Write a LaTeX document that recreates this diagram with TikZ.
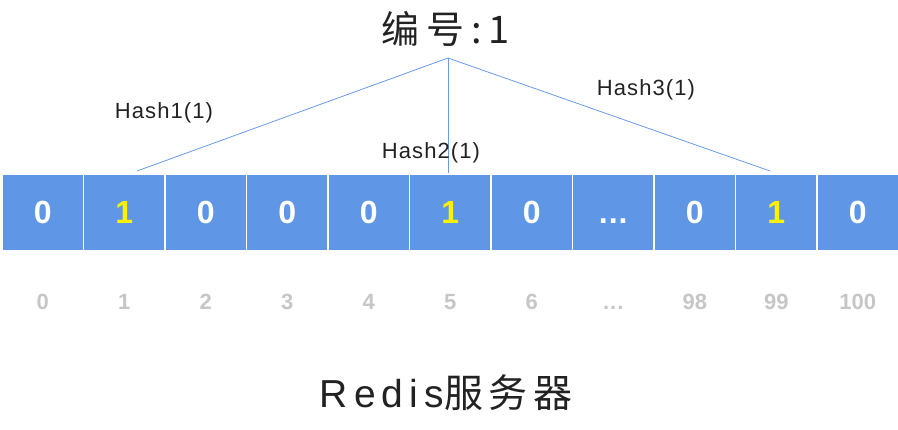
\documentclass[tikz,border=0pt]{standalone}
\usepackage{fontspec}
\setmainfont{Liberation Sans}
\newfontfamily\cjk{Noto Sans CJK SC}
\newcommand\mydots{\vphantom{0}.\kern1pt.\kern1pt.}
\definecolor{cellblue}{HTML}{5F96E6}
\definecolor{lineblue}{HTML}{6A9BE8}
\definecolor{idxgray}{HTML}{C6C6C6}
\definecolor{txt}{HTML}{222222}
\begin{document}
\begin{tikzpicture}[x=1pt,y=-1pt,
  cellbox/.style={fill=cellblue,draw=white,line width=1.4pt,minimum width=81.5pt,minimum height=77pt,inner sep=0pt,
    font=\fontsize{32}{32}\selectfont\bfseries,text=white},
  onebit/.style={text=yellow},
  idx/.style={font=\fontsize{22}{22}\selectfont\bfseries,text=idxgray},
  hashlbl/.style={font=\fontsize{22}{22}\selectfont\addfontfeatures{LetterSpace=5},text=txt,inner sep=0pt},
  conn/.style={draw=lineblue,line width=0.8pt}]
\useasboundingbox (0,0) rectangle (898,429);
\foreach \i/\v/\n in {0/0/0,1/1/1,2/0/2,3/0/3,4/0/4,5/1/5,6/0/6,7/\mydots/\mydots,8/0/98,9/1/99,10/0/100}{
  \node[cellbox] (c\i) at ({2+81.5*\i+40.75},212.5) {\v};
  \node[idx] (i\i) at ({2+81.5*\i+40.75},302) {\n};
}
\foreach \i in {1,5,9}{\node[cellbox,onebit] at (c\i) {1};}
\node[text=txt] (title) at (446,29) {\cjk\fontsize{38}{38}\selectfont\addfontfeatures{LetterSpace=18}编号:1};
\coordinate (apex) at (448,58);
\coordinate (e1) at (137,171);
\coordinate (e5) at (448,173);
\coordinate (e9) at (770,171);
\draw[conn] (apex) -- (e1);
\draw[conn] (apex) -- (e5);
\draw[conn] (apex) -- (e9);
\node[hashlbl] (h1) at (164,113) {Hash1(1)};
\node[hashlbl] (h2) at (431,153) {Hash2(1)};
\node[hashlbl] (h3) at (646,90) {Hash3(1)};
\node[text=txt] (srv) at (446,393) {\fontsize{39}{39}\selectfont\addfontfeatures{LetterSpace=16}Redis\cjk\fontsize{39}{39}\selectfont\addfontfeatures{LetterSpace=14}服务器};
\end{tikzpicture}
\end{document}
